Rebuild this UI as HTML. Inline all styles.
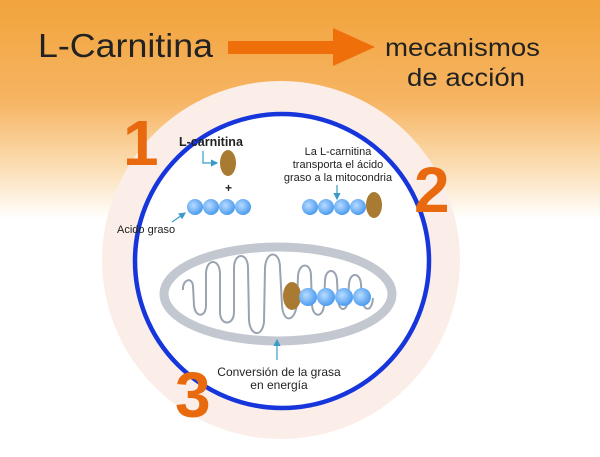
<!DOCTYPE html>
<html><head><meta charset="utf-8"><style>
html,body{margin:0;padding:0;width:600px;height:457px;overflow:hidden;background:#fff}
svg{display:block}
text{font-family:"Liberation Sans",sans-serif}
</style></head><body>
<svg width="600" height="457" viewBox="0 0 600 457">
<defs>
<linearGradient id="bg" x1="0" y1="0" x2="0" y2="1">
<stop offset="0" stop-color="#f2a43c"/>
<stop offset="0.22" stop-color="#f6b462"/>
<stop offset="0.36" stop-color="#fbdcb0"/>
<stop offset="0.48" stop-color="#ffffff"/>
<stop offset="1" stop-color="#ffffff"/>
</linearGradient>
<radialGradient id="bead" cx="0.4" cy="0.4" r="0.6">
<stop offset="0" stop-color="#b9dcff"/>
<stop offset="1" stop-color="#4c9cf0"/>
</radialGradient>
<marker id="ah" markerWidth="6" markerHeight="6" refX="5" refY="3" orient="auto">
<path d="M0,0 L6,3 L0,6 z" fill="#3a9bc8"/>
</marker>
</defs>
<rect width="600" height="457" fill="url(#bg)"/>
<circle cx="281" cy="260" r="179" fill="#fbeee8"/>
<circle cx="282" cy="261" r="147" fill="#fff" stroke="#1636dc" stroke-width="4.5"/>

<text x="38" y="57" font-size="33" fill="#222" textLength="175" lengthAdjust="spacingAndGlyphs">L-Carnitina</text>
<rect x="228" y="41" width="108" height="13" fill="#ef6f0a"/>
<path d="M333,28 L375,47 L333,66 z" fill="#ef6f0a"/>
<text x="385" y="56" font-size="25" fill="#222" textLength="155" lengthAdjust="spacingAndGlyphs">mecanismos</text>
<text x="407" y="86" font-size="25" fill="#222" textLength="118" lengthAdjust="spacingAndGlyphs">de acción</text>

<text x="123" y="165" font-size="64" font-weight="bold" fill="#e8690e">1</text>
<text x="414" y="212" font-size="64" font-weight="bold" fill="#e8690e">2</text>
<text x="175" y="417" font-size="64" font-weight="bold" fill="#e8690e">3</text>

<text x="179" y="146" font-size="12.5" font-weight="bold" fill="#222">L-carnitina</text>
<path d="M203,151 V163 H217" fill="none" stroke="#3a9bc8" stroke-width="1.2" marker-end="url(#ah)"/>
<ellipse cx="228" cy="163" rx="8" ry="13" fill="#a87a32"/>
<text x="225" y="192" font-size="12" font-weight="bold" fill="#222">+</text>
<g fill="url(#bead)">
<circle cx="195" cy="207" r="8"/><circle cx="211" cy="207" r="8"/><circle cx="227" cy="207" r="8"/><circle cx="243" cy="207" r="8"/>
<circle cx="310" cy="207" r="8"/><circle cx="326" cy="207" r="8"/><circle cx="342" cy="207" r="8"/><circle cx="358" cy="207" r="8"/>
</g>
<ellipse cx="374" cy="205" rx="8" ry="13" fill="#a87a32"/>
<text x="117" y="233" font-size="11" fill="#222">Acido graso</text>
<path d="M172,222 L185,213" stroke="#3a9bc8" stroke-width="1.2" marker-end="url(#ah)"/>
<text font-size="11" fill="#222" text-anchor="middle"><tspan x="338" y="155">La L-carnitina</tspan><tspan x="338" y="168">transporta el ácido</tspan><tspan x="338" y="181">graso a la mitocondria</tspan></text>
<path d="M337,185 V199" stroke="#3a9bc8" stroke-width="1.2" marker-end="url(#ah)"/>

<ellipse cx="278" cy="294" rx="114" ry="47" fill="#fff" stroke="#c3c8d0" stroke-width="9"/>
<path d="M183,290 C182,280 192,276 193,286 L194,305 C195,318 206,318 206,305 L206,274 C206,258 220,258 220,274 L220,312 C220,326 234,326 234,312 L234,268 C234,252 248,252 248,268 L249,320 C250,336 262,338 264,322 L265,268 C266,250 280,250 280,268 L282,305 C283,325 297,322 297,300 L298,276 C299,262 311,262 311,276 L312,305 C313,318 323,318 324,305 L325,280 C326,268 336,268 337,280 L338,300 C339,312 347,312 348,300 L349,284 C350,272 360,272 361,284 L362,300 C364,312 372,312 373,298" fill="none" stroke="#9aa3b0" stroke-width="2"/>
<ellipse cx="292" cy="296" rx="9" ry="14" fill="#a87a32"/>
<g fill="url(#bead)">
<circle cx="308" cy="297" r="9"/><circle cx="326" cy="297" r="9"/><circle cx="344" cy="297" r="9"/><circle cx="362" cy="297" r="9"/>
</g>
<path d="M277,360 V340" stroke="#3a9bc8" stroke-width="1.2" marker-end="url(#ah)"/>
<text font-size="12" fill="#222" text-anchor="middle"><tspan x="279" y="376">Conversión de la grasa</tspan><tspan x="279" y="389">en energía</tspan></text>
</svg>
</body></html>
